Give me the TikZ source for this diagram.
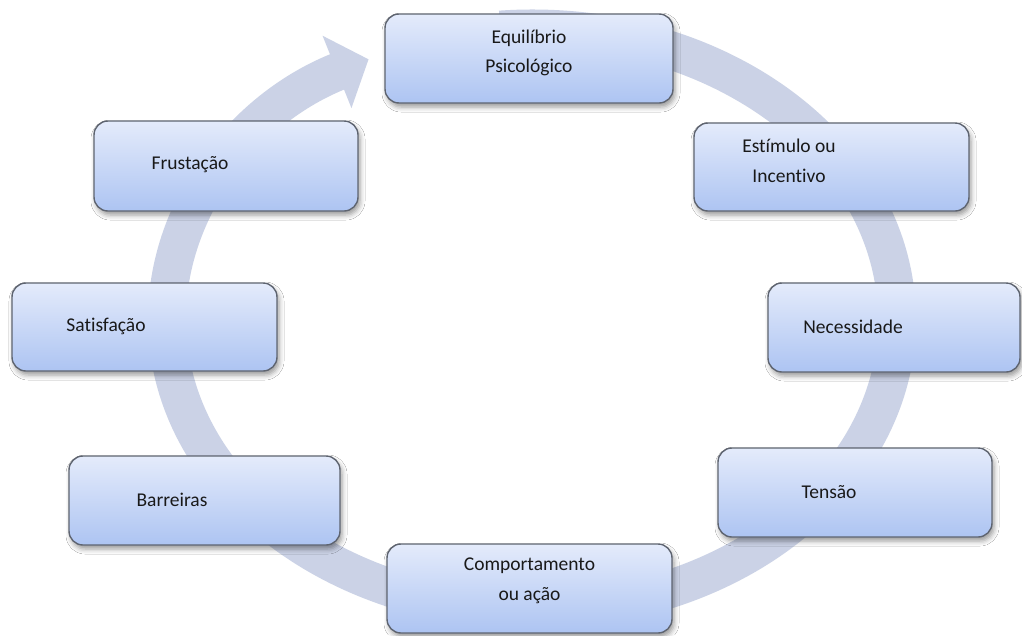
\documentclass[tikz,border=0pt]{standalone}
\usepackage{fontspec}
\setmainfont{Carlito}[Ligatures={NoCommon}]
\usetikzlibrary{arrows.meta,shadows.blur}
\definecolor{ringfill}{HTML}{CBD2E6}
\definecolor{boxtop}{HTML}{E4EBFB}
\definecolor{boxbot}{HTML}{ADC4F2}
\definecolor{boxedge}{HTML}{5E6470}
\begin{document}
\begin{tikzpicture}[x=1pt,y=-1pt,
  stage/.style={rectangle, rounded corners=14pt, draw=boxedge, line width=1.4pt,
    top color=boxtop, bottom color=boxbot, inner sep=0pt,
    blur shadow={shadow xshift=2pt, shadow yshift=-4pt, shadow blur radius=5pt, shadow opacity=40}},
  caption/.style={align=center, inner sep=0pt, font=\fontsize{19.5}{29.5}\selectfont, text=black!90},
  ring/.style={draw=ringfill, line width=38pt,
    -{Triangle[length=34pt,width=76pt,fill=ringfill]}}]

% canvas
\fill[white] (0,0) rectangle (1022,635);
\useasboundingbox (0,0) rectangle (1022,635);

% cycle arrow running clockwise behind the stages
\coordinate (hub) at (532,319.5);
\draw[ring] (hub) ++(-95:365 and 291)
  arc[start angle=-95, end angle=243.4, x radius=365, y radius=291];

% stages
\node[stage, minimum width=288pt, minimum height=89pt] (eq)  at (529,58.5)   {};
\node[stage, minimum width=275pt, minimum height=88pt] (est) at (831.5,167)  {};
\node[stage, minimum width=252pt, minimum height=89pt] (nec) at (894,327.5)  {};
\node[stage, minimum width=274pt, minimum height=89pt] (ten) at (855,492.5)  {};
\node[stage, minimum width=285pt, minimum height=89pt] (com) at (529.5,588.5){};
\node[stage, minimum width=271pt, minimum height=89pt] (bar) at (204.5,500.5){};
\node[stage, minimum width=265pt, minimum height=88pt] (sat) at (144.5,327)  {};
\node[stage, minimum width=264pt, minimum height=90pt] (fru) at (226,166)    {};

% captions
\node[caption] (teq)  at (529,53)    {Equilíbrio\\Psicológico};
\node[caption] (test) at (789,161)   {Estímulo ou\\Incentivo};
\node[caption] (tnec) at (853,327)   {Necessidade};
\node[caption] (tten) at (829,492)   {Tensão};
\node[caption] (tcom) at (529.5,581) {Comportamento\\ou ação};
\node[caption] (tbar) at (172,500)   {Barreiras};
\node[caption] (tsat) at (106,326)   {Satisfação};
\node[caption] (tfru) at (190,165)   {Frustação};
\end{tikzpicture}
\end{document}
